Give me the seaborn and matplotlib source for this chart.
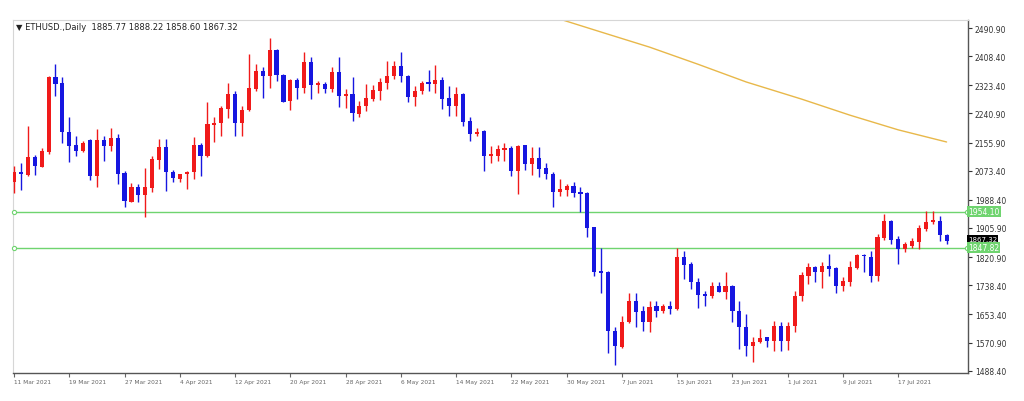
import pandas as pd
import seaborn as sns
import matplotlib.pyplot as plt
import matplotlib.transforms as mtransforms

# OHLC of ETHUSD daily candles
opens = [2041.4, 2070.6, 2060.9, 2112.6, 2085.3, 2127.2, 2346.6, 2329.0, 2187.6, 2148.6,
         2132.1, 2164.2, 2058.9, 2163.3, 2146.7, 2168.1, 2065.8, 1982.9, 2024.8, 2002.4,
         2021.9, 2105.7, 2143.8, 2070.6, 2049.2, 2063.8, 2068.7, 2148.6, 2115.5, 2207.2,
         2213.0, 2254.0, 2297.8, 2213.0, 2251.0, 2312.5, 2364.1, 2351.4, 2427.5, 2353.4,
         2278.3, 2338.8, 2314.4, 2392.4, 2325.1, 2327.1, 2312.5, 2363.1, 2291.0, 2297.8,
         2239.3, 2261.7, 2283.2, 2307.6, 2330.0, 2351.4, 2380.7, 2351.4, 2288.1, 2305.6,
         2331.9, 2327.1, 2339.7, 2285.1, 2263.7, 2297.8, 2219.8, 2180.8, 2190.6, 2117.4,
         2117.4, 2135.0, 2138.9, 2073.6, 2148.6, 2093.1, 2110.6, 2080.4, 2063.8, 2012.1,
         2018.0, 2029.7, 2010.2, 2008.3, 1907.9, 1781.1, 1778.2, 1605.6, 1556.9, 1630.0,
         1693.4, 1664.1, 1630.0, 1676.8, 1664.1, 1678.8, 1669.0, 1820.1, 1800.6, 1748.9,
         1712.9, 1708.0, 1735.3, 1719.7, 1737.3, 1664.1, 1617.3, 1561.7, 1571.5, 1586.1,
         1574.4, 1620.2, 1576.4, 1618.3, 1706.1, 1766.5, 1790.9, 1778.2, 1795.8, 1788.0,
         1737.3, 1748.9, 1788.9, 1826.9, 1820.1, 1764.6, 1875.7, 1927.4, 1873.8, 1844.5,
         1854.3, 1866.0, 1903.0, 1924.5, 1927.4, 1885.77]
highs = [2088.2, 2095.0, 2205.2, 2120.4, 2138.9, 2350.0, 2385.6, 2346.6, 2231.5, 2175.9,
         2161.3, 2166.0, 2195.4, 2175.9, 2197.4, 2180.8, 2073.6, 2037.5, 2034.6, 2081.4,
         2117.4, 2166.2, 2166.2, 2075.5, 2063.8, 2073.6, 2171.1, 2153.5, 2273.4, 2229.6,
         2263.7, 2329.0, 2307.6, 2263.7, 2414.8, 2385.6, 2375.8, 2462.0, 2430.0, 2355.0,
         2341.7, 2343.6, 2421.6, 2405.1, 2336.8, 2331.9, 2375.8, 2405.1, 2312.5, 2346.6,
         2278.3, 2327.1, 2324.2, 2343.6, 2395.3, 2395.3, 2421.6, 2353.4, 2322.2, 2336.8,
         2368.0, 2382.6, 2346.6, 2322.2, 2317.3, 2299.8, 2229.6, 2197.4, 2192.0, 2144.7,
         2148.6, 2154.5, 2144.7, 2148.6, 2150.0, 2141.8, 2141.8, 2096.0, 2068.7, 2049.2,
         2034.6, 2039.4, 2024.8, 2010.3, 1909.0, 1846.4, 1779.0, 1615.4, 1649.5, 1715.8,
         1715.8, 1676.8, 1693.4, 1693.4, 1683.6, 1693.4, 1846.4, 1839.6, 1807.5, 1758.7,
         1722.6, 1747.0, 1747.0, 1778.2, 1739.2, 1691.4, 1654.4, 1586.1, 1610.5, 1588.1,
         1634.9, 1631.9, 1631.9, 1722.6, 1778.2, 1803.6, 1795.8, 1805.5, 1829.9, 1790.9,
         1761.6, 1810.4, 1829.9, 1829.9, 1839.6, 1888.4, 1946.9, 1930.3, 1881.5, 1864.0,
         1875.7, 1914.7, 1954.7, 1956.6, 1942.0, 1888.22]
lows = [2008.2, 2018.0, 2057.0, 2060.9, 2083.3, 2122.3, 2292.9, 2154.5, 2099.9, 2115.5,
        2127.2, 2047.2, 2024.8, 2102.8, 2132.1, 2034.6, 1966.3, 1980.9, 1982.9, 1937.1,
        2010.2, 2078.4, 2015.1, 2039.4, 2041.4, 2020.0, 2049.2, 2058.9, 2112.6, 2156.4,
        2175.9, 2226.6, 2175.9, 2175.9, 2249.1, 2307.6, 2285.1, 2314.4, 2336.8, 2273.5,
        2251.0, 2283.2, 2300.7, 2283.2, 2300.7, 2300.7, 2302.7, 2258.8, 2255.9, 2219.8,
        2229.6, 2249.1, 2278.3, 2281.3, 2312.5, 2341.7, 2333.9, 2275.4, 2263.7, 2297.8,
        2307.6, 2300.7, 2254.0, 2234.5, 2234.5, 2203.2, 2159.4, 2175.9, 2073.6, 2096.0,
        2100.9, 2102.8, 2057.0, 2005.3, 2075.5, 2060.9, 2054.1, 2049.2, 1966.3, 2000.5,
        2000.5, 1995.6, 1951.7, 1878.6, 1766.5, 1715.8, 1540.3, 1505.2, 1553.9, 1628.1,
        1615.4, 1605.6, 1602.7, 1646.6, 1656.3, 1654.4, 1667.1, 1756.7, 1727.5, 1670.9,
        1678.8, 1700.2, 1718.0, 1698.3, 1632.0, 1552.0, 1532.5, 1513.0, 1568.6, 1558.8,
        1547.1, 1547.1, 1550.1, 1600.8, 1693.4, 1742.1, 1748.9, 1729.5, 1766.5, 1714.8,
        1722.6, 1737.3, 1786.0, 1778.2, 1748.9, 1751.9, 1871.8, 1859.1, 1800.6, 1836.7,
        1846.4, 1844.5, 1898.1, 1917.6, 1868.9, 1858.60]
closes = [2068.7, 2064.8, 2112.6, 2086.2, 2130.1, 2346.6, 2327.1, 2187.6, 2146.7, 2132.1,
          2155.5, 2058.9, 2164.2, 2146.7, 2168.1, 2063.8, 1985.8, 2024.8, 2002.4, 2024.8,
          2107.7, 2143.8, 2068.7, 2051.1, 2063.8, 2070.6, 2148.6, 2115.5, 2210.1, 2212.0,
          2255.9, 2297.8, 2213.0, 2252.0, 2315.4, 2364.1, 2351.4, 2427.5, 2353.4, 2275.4,
          2339.7, 2314.4, 2392.4, 2325.1, 2329.0, 2312.5, 2363.1, 2291.0, 2297.8, 2242.2,
          2263.7, 2285.1, 2310.5, 2331.9, 2351.4, 2380.7, 2349.5, 2288.1, 2307.6, 2329.0,
          2327.1, 2339.7, 2283.2, 2263.7, 2297.8, 2216.9, 2180.8, 2187.6, 2117.4, 2122.3,
          2136.9, 2138.9, 2073.6, 2146.7, 2093.1, 2110.6, 2078.4, 2063.8, 2012.1, 2019.9,
          2029.7, 2007.3, 2005.3, 1904.9, 1778.2, 1774.3, 1605.6, 1559.8, 1631.9, 1693.4,
          1661.2, 1630.0, 1673.9, 1664.1, 1676.8, 1669.0, 1820.1, 1797.7, 1748.9, 1709.9,
          1708.0, 1735.3, 1719.7, 1737.3, 1664.1, 1615.4, 1561.7, 1573.4, 1584.2, 1576.4,
          1620.2, 1574.4, 1620.2, 1708.0, 1768.4, 1790.9, 1776.3, 1795.8, 1786.0, 1737.3,
          1749.9, 1790.9, 1826.9, 1823.1, 1766.5, 1878.6, 1927.4, 1871.8, 1844.5, 1859.1,
          1868.9, 1905.9, 1924.5, 1929.3, 1885.5, 1867.32]

# moving average line (bar index, value), only the visible part
ma_idx = [79, 85, 92, 99, 106, 114, 121, 128, 135]
ma_val = [2517.0, 2479.0, 2435.0, 2385.0, 2333.0, 2283.0, 2236.0, 2193.0, 2157.5]

# support / resistance lines
levels = [1954.10, 1847.82]
last_price = 1867.32

y_ticks = [2490.90, 2408.40, 2323.40, 2240.90, 2155.90, 2073.40, 1988.40,
           1905.90, 1820.90, 1738.40, 1653.40, 1570.90, 1488.40]
x_tick_labels = ["11 Mar 2021", "19 Mar 2021", "27 Mar 2021", "4 Apr 2021", "12 Apr 2021",
                 "20 Apr 2021", "28 Apr 2021", "6 May 2021", "14 May 2021", "22 May 2021",
                 "30 May 2021", "7 Jun 2021", "15 Jun 2021", "23 Jun 2021", "1 Jul 2021",
                 "9 Jul 2021", "17 Jul 2021"]

df = pd.DataFrame({"open": opens, "high": highs, "low": lows, "close": closes})
df["i"] = range(len(df))
df["up"] = df["close"] >= df["open"]

RED = "#f01a1a"
BLUE = "#1616e0"
GREEN = "#6fd46f"

sns.set_style("white")
plt.rcParams["font.family"] = ["DejaVu Sans"]

fig = plt.figure(figsize=(10.24, 4.02), dpi=100)
ax = fig.add_axes([13 / 1024, 1 - 373.5 / 402, 955 / 1024, 353 / 402])

colors = [RED if u else BLUE for u in df["up"]]
ax.vlines(df["i"], df["low"], df["high"], colors=colors, linewidth=1.0, zorder=3)
body_bottom = df[["open", "close"]].min(axis=1)
body_h = (df["close"] - df["open"]).abs().clip(lower=3.0)
ax.bar(df["i"], body_h, bottom=body_bottom, width=0.6, color=colors, linewidth=0, zorder=4)

# moving average
sns.lineplot(x=ma_idx, y=ma_val, ax=ax, color="#e8b84a", linewidth=1.0, zorder=2)

# horizontal levels
x_lo, x_hi = -0.15, 138.1
for lv in levels:
    ax.axhline(lv, color=GREEN, linewidth=1.0, zorder=1)
    ax.plot([x_lo + 0.1, x_hi - 0.1], [lv, lv], linestyle="none", marker="o", markersize=3,
            markerfacecolor="white", markeredgecolor=GREEN, markeredgewidth=0.8,
            clip_on=False, zorder=5)

ax.set_xlim(x_lo, x_hi)
ax.set_ylim(1483.2, 2515.8)

ax.yaxis.tick_right()
ax.set_yticks(y_ticks)
ax.set_yticklabels([f"{v:.2f}" for v in y_ticks])
ax.tick_params(axis="y", direction="out", length=3, width=0.8, labelsize=5.5,
               colors="#333333", pad=2, right=True, left=False)

ax.set_xticks(range(0, 8 * len(x_tick_labels), 8))
ax.set_xticklabels(x_tick_labels, ha="left")
ax.tick_params(axis="x", direction="out", length=3, width=0.8, labelsize=4.2,
               colors="#666666", pad=2, bottom=True)

for side in ["left", "top"]:
    ax.spines[side].set_color("#d6d6d6")
    ax.spines[side].set_linewidth(0.8)
for side in ["right", "bottom"]:
    ax.spines[side].set_color("#555555")
    ax.spines[side].set_linewidth(1.0)

# price labels on the right scale
trans = mtransforms.blended_transform_factory(ax.transAxes, ax.transData)
up_shift = mtransforms.offset_copy(trans, fig=fig, x=0, y=2, units="dots")
ax.text(1.0, last_price, f"{last_price:.2f}", transform=up_shift, fontsize=5,
        color="white", va="center", ha="left",
        bbox=dict(boxstyle="square,pad=0.1", facecolor="black", edgecolor="none"),
        clip_on=False, zorder=6)
for lv in levels:
    ax.text(1.0, lv, f"{lv:.2f}", transform=trans, fontsize=5.5, color="white",
            va="center", ha="left",
            bbox=dict(boxstyle="square,pad=0.15", facecolor=GREEN, edgecolor="none"),
            clip_on=False, zorder=7)

ax.set_xlabel("")
ax.set_ylabel("")

fig.text(16 / 1024, 1 - 27 / 402, "\u25bc ETHUSD.,Daily  1885.77 1888.22 1858.60 1867.32",
         fontsize=6, color="#222222", va="center", ha="left")

fig.savefig("out.png", dpi=100)
